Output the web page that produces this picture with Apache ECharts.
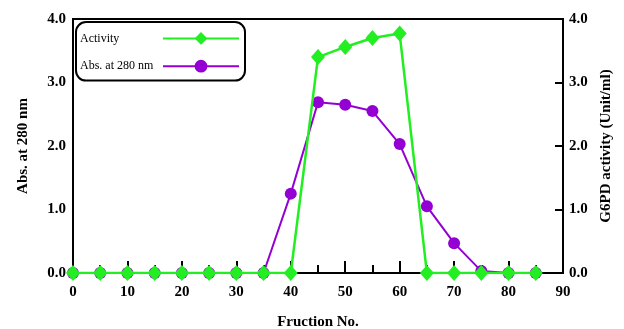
<!DOCTYPE html>
<html><head><meta charset="utf-8">
<script src="https://cdn.jsdelivr.net/npm/echarts@6/dist/echarts.min.js"></script>
<style>html,body{margin:0;padding:0;background:#fff}#c{width:624px;height:329px}</style>
</head><body><div id="c"></div>
<script>
const fractions = [0,5,10,15,20,25,30,35,40,45,50,55,60,65,70,75,80,85];
const absorbance = [0,0,0,0,0,0,0,0,1.25,2.69,2.65,2.55,2.03,1.05,0.47,0.03,0,0];
const activity = [0,0,0,0,0,0,0,0,0,3.40,3.56,3.70,3.77,0,0,0,0,0];
const yTicks = [0,1,2,3,4];
const font = 'Liberation Serif';
const chart = echarts.init(document.getElementById('c'));
chart.setOption({
  animation:false,
  grid:{left:73,right:61,top:19,bottom:56,outerBoundsMode:'none',containLabel:false,show:true,borderColor:'#000',borderWidth:2,backgroundColor:'transparent'},
  legend:{
    orient:'vertical',left:76,top:22,align:'right',
    padding:[10,5,8,4],itemGap:15,itemWidth:76,itemHeight:16,
    borderColor:'#000',borderWidth:2,borderRadius:10,
    formatter:n=>'{a|'+n+'}',
    textStyle:{fontFamily:font,fontSize:12,color:'#000',
      rich:{a:{width:78,align:'left',fontFamily:font,fontSize:12,color:'#000'}}},
    data:['Activity','Abs. at 280 nm']
  },
  xAxis:{type:'value',min:0,max:90,interval:10,
    name:'Fruction No.',nameLocation:'middle',nameGap:42,
    nameTextStyle:{fontFamily:font,fontWeight:'bold',fontSize:15,color:'#000'},
    axisLine:{show:true,lineStyle:{color:'#000',width:2}},
    axisTick:{show:true,inside:true,length:12,lineStyle:{color:'#000',width:2}},
    minorTick:{show:true,splitNumber:2,length:8,lineStyle:{color:'#000',width:2}},
    splitLine:{show:false},
    axisLabel:{fontFamily:font,fontWeight:'bold',fontSize:15,color:'#000',margin:12}
  },
  yAxis:[
    {type:'value',min:0,max:4,interval:1,position:'left',
      name:'Abs. at 280 nm',nameLocation:'middle',nameGap:42,
      nameTextStyle:{fontFamily:font,fontWeight:'bold',fontSize:15,color:'#000'},
      axisLine:{show:true,lineStyle:{color:'#000',width:2}},
      axisTick:{show:false},splitLine:{show:false},
      axisLabel:{fontFamily:font,fontWeight:'bold',fontSize:15,color:'#000',margin:7,formatter:v=>v.toFixed(1)}
    },
    {type:'value',min:0,max:4,interval:1,position:'right',
      name:'G6PD activity (Unit/ml)',nameLocation:'middle',nameGap:36,nameRotate:90,
      nameTextStyle:{fontFamily:font,fontWeight:'bold',fontSize:15,color:'#000'},
      axisLine:{show:true,lineStyle:{color:'#000',width:2}},
      axisTick:{show:true,inside:true,length:8,lineStyle:{color:'#000',width:2}},
      splitLine:{show:false},
      axisLabel:{fontFamily:font,fontWeight:'bold',fontSize:15,color:'#000',margin:6,formatter:v=>v.toFixed(1)}
    }
  ],
  series:[
    {name:'Abs. at 280 nm',type:'line',yAxisIndex:0,
      data:fractions.map((f,i)=>[f,absorbance[i]]),
      symbol:'circle',symbolSize:12,
      lineStyle:{color:'#9400D3',width:2},itemStyle:{color:'#9400D3'},z:2},
    {name:'Activity',type:'line',yAxisIndex:1,
      data:fractions.map((f,i)=>[f,activity[i]]),
      symbol:'diamond',symbolSize:[14,16],
      lineStyle:{color:'#22EE22',width:2.5},itemStyle:{color:'#22EE22'},z:3}
  ]
});
</script></body></html>
